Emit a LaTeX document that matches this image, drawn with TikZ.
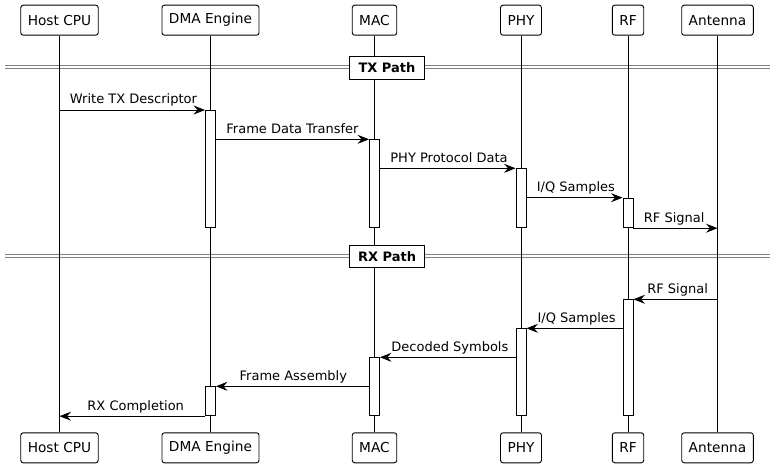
\documentclass[tikz,border=0pt]{standalone}
\usepackage{fontspec}
\setmainfont{DejaVu Sans}
\usetikzlibrary{arrows.meta,positioning}
\tikzset{
sqpart/.style={rectangle,rounded corners=2.5bp,draw,line width=0.9bp,fill=white,inner xsep=7bp,minimum height=30bp,font=\fontsize{13.7bp}{16bp}\selectfont},
sqlife/.style={line width=0.9bp},
sqact/.style={rectangle,draw,fill=white,line width=0.9bp,minimum width=10bp,inner sep=0pt,anchor=north},
sqmsg/.style={-{Stealth[length=11.5bp,width=9bp,inset=4bp]},line width=0.9bp},
sqlbl/.style={font=\fontsize{13bp}{15bp}\selectfont,inner sep=0pt,anchor=base west,yshift=6bp},
sqsep/.style={draw=gray,double=white,double distance=2bp,line width=0.8bp},
sqdiv/.style={rectangle,draw,fill=white,line width=1.2bp,minimum width=75.7bp,minimum height=22.6bp,inner sep=0pt,font=\fontsize{13bp}{15bp}\selectfont\bfseries}
}
\begin{document}
\begin{tikzpicture}[x=1bp,y=-1bp]
\useasboundingbox (0,0) rectangle (775,468);
% participants, top and bottom
\node[sqpart] (hostT) at (59.5,20.2) {Host CPU};
\node[sqpart] (dmaT) at (210.5,20.2) {DMA Engine};
\node[sqpart] (macT) at (374.5,20.2) {MAC};
\node[sqpart] (phyT) at (521,20.2) {PHY};
\node[sqpart] (rfT) at (628,20.2) {RF};
\node[sqpart] (antT) at (717.5,20.2) {Antenna};
\node[sqpart] (hostB) at (59.5,447.8) {Host CPU};
\node[sqpart] (dmaB) at (210.5,447.8) {DMA Engine};
\node[sqpart] (macB) at (374.5,447.8) {MAC};
\node[sqpart] (phyB) at (521,447.8) {PHY};
\node[sqpart] (rfB) at (628,447.8) {RF};
\node[sqpart] (antB) at (717.5,447.8) {Antenna};
% separators
\draw[sqsep] (5,67) -- (770,67);
\draw[sqsep] (5,256) -- (770,256);
% lifelines
\draw[sqlife] (hostT) -- (hostB);
\draw[sqlife] (dmaT) -- (dmaB);
\draw[sqlife] (macT) -- (macB);
\draw[sqlife] (phyT) -- (phyB);
\draw[sqlife] (rfT) -- (rfB);
\draw[sqlife] (antT) -- (antB);
\node[sqdiv] (txdiv) at (387,68) {TX Path};
\node[sqdiv] (rxdiv) at (387,256.5) {RX Path};
% activations
\node[sqact,minimum height=117.3bp] (dmaA) at (210.5,110) {};
\node[sqact,minimum height=88bp] (macA) at (374.5,139.3) {};
\node[sqact,minimum height=59bp] (phyA) at (521,168.3) {};
\node[sqact,minimum height=29.6bp] (rfA) at (628,197.7) {};
\node[sqact,minimum height=116bp] (rfR) at (628,299.3) {};
\node[sqact,minimum height=87bp] (phyR) at (521,328.3) {};
\node[sqact,minimum height=58bp] (macR) at (374.5,357.3) {};
\node[sqact,minimum height=29bp] (dmaR) at (210.5,386.3) {};
% TX messages
\draw[sqmsg] (hostT |- dmaA.north) -- node[sqlbl,pos=0,xshift=10bp]{Write TX Descriptor} (dmaA.north west);
\draw[sqmsg] (dmaA.east |- macA.north) -- node[sqlbl,pos=0,xshift=10bp]{Frame Data Transfer} (macA.north west);
\draw[sqmsg] (macA.east |- phyA.north) -- node[sqlbl,pos=0,xshift=10bp]{PHY Protocol Data} (phyA.north west);
\draw[sqmsg] (phyA.east |- rfA.north) -- node[sqlbl,pos=0,xshift=10bp]{I/Q Samples} (rfA.north west);
\draw[sqmsg] (rfA.south east) -- node[sqlbl,pos=0,xshift=10bp]{RF Signal} (antT |- rfA.south);
% RX messages
\draw[sqmsg] (antT |- rfR.north) -- node[sqlbl,pos=1,xshift=13.4bp]{RF Signal} (rfR.north east);
\draw[sqmsg] (rfR.west |- phyR.north) -- node[sqlbl,pos=1,xshift=10.7bp]{I/Q Samples} (phyR.north east);
\draw[sqmsg] (phyR.west |- macR.north) -- node[sqlbl,pos=1,xshift=11bp]{Decoded Symbols} (macR.north east);
\draw[sqmsg] (macR.west |- dmaR.north) -- node[sqlbl,pos=1,xshift=23.3bp]{Frame Assembly} (dmaR.north east);
\draw[sqmsg] (dmaR.south west) -- node[sqlbl,pos=1,xshift=27.5bp]{RX Completion} (hostT |- dmaR.south);
\end{tikzpicture}
\end{document}
